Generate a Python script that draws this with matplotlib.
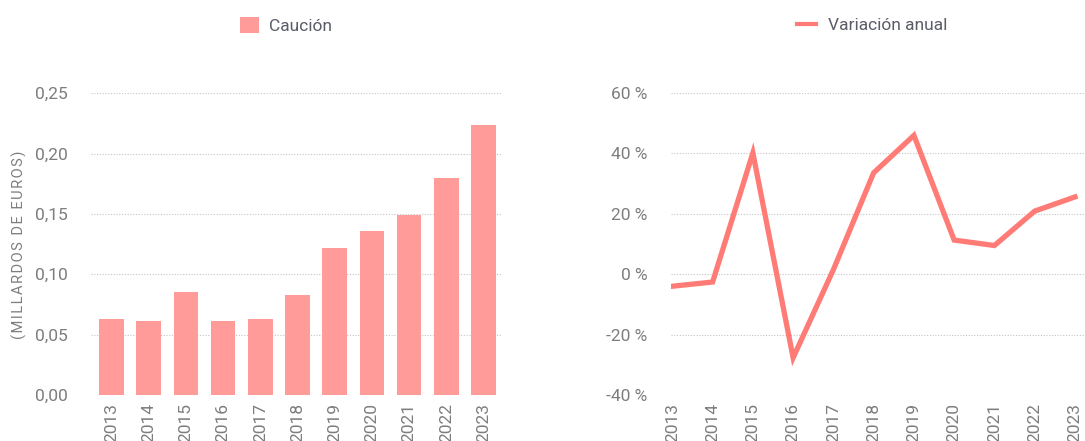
import matplotlib
matplotlib.use("Agg")
import numpy as np
from matplotlib import pyplot as plt
from matplotlib.patches import Patch
from matplotlib.lines import Line2D
from matplotlib.ticker import FuncFormatter

# datos
years = ["2013", "2014", "2015", "2016", "2017", "2018",
         "2019", "2020", "2021", "2022", "2023"]
caucion = [0.063, 0.061, 0.085, 0.061, 0.063, 0.083,
           0.122, 0.136, 0.149, 0.180, 0.224]
variacion = [-4.0, -2.6, 40.2, -27.7, 1.5, 33.6,
             46.0, 11.3, 9.5, 20.9, 25.6]

bar_color = "#FF9C9A"
line_color = "#FF7B76"
tick_color = "#7d7d7d"
legend_color = "#5a5d68"
grid_color = "#c4c4c4"

plt.rcParams["font.family"] = ["Roboto", "DejaVu Sans"]

fig = plt.figure(figsize=(10.85, 4.41), dpi=100)
x = np.arange(len(years))


def estilo(ax):
    for s in ax.spines.values():
        s.set_visible(False)
    ax.tick_params(length=0, colors=tick_color, labelsize=12.5)
    ax.tick_params(axis="y", pad=17)
    ax.tick_params(axis="x", pad=6)
    ax.yaxis.grid(True, linestyle=(0, (1, 1.5)), color=grid_color, linewidth=0.8)
    ax.set_axisbelow(True)
    ax.set_xticks(x)
    ax.set_xticklabels(years, rotation=90, va="top")


# barras (izquierda)
ax1 = fig.add_axes([0.0839, 0.1043, 0.3779, 0.6848])
ax1.bar(x, caucion, width=0.66, color=bar_color, zorder=2)
ax1.set_xlim(-0.55, 10.47)
ax1.set_ylim(0, 0.2502)
ax1.set_yticks([0, 0.05, 0.10, 0.15, 0.20, 0.25])
ax1.yaxis.set_major_formatter(FuncFormatter(lambda v, p: f"{v:.2f}".replace(".", ",")))
estilo(ax1)

# etiqueta del eje con espaciado entre letras
etiqueta = "\u200a".join("(MILLARDOS DE EUROS)")
fig.text(0.0175, 0.445, etiqueta, rotation=90, ha="center", va="center",
         color=tick_color, fontsize=10.5)

# línea (derecha)
ax2 = fig.add_axes([0.6182, 0.1043, 0.3818, 0.6848])
ax2.plot(x, variacion, color=line_color, linewidth=3.8, solid_joinstyle="miter", zorder=3)
ax2.set_xlim(-0.04, 10.25)
ax2.set_ylim(-40.05, 60.05)
ax2.set_yticks([-40, -20, 0, 20, 40, 60])
ax2.yaxis.set_major_formatter(FuncFormatter(lambda v, p: f"{v:.0f} %"))
estilo(ax2)

# leyendas
fig.legend(handles=[Patch(facecolor=bar_color, edgecolor="none")], labels=["Caución"],
           loc="center", bbox_to_anchor=(0.2635, 0.943), frameon=False,
           fontsize=12.5, handlelength=1.1, handleheight=1.1, handletextpad=0.6,
           labelcolor=legend_color)
fig.legend(handles=[Line2D([], [], color=line_color, linewidth=3)], labels=["Variación anual"],
           loc="center", bbox_to_anchor=(0.804, 0.943), frameon=False,
           fontsize=12.5, handlelength=1.1, handletextpad=0.7,
           labelcolor=legend_color)

fig.savefig("out.png", dpi=100)
